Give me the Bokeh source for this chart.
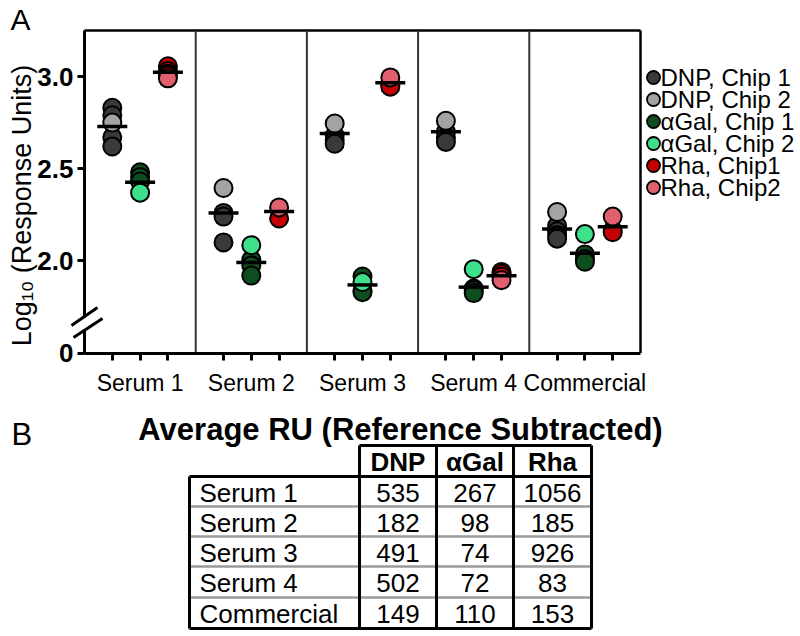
import numpy as np
from bokeh.plotting import figure
from bokeh.models import Range1d, FixedTicker
from bokeh.layouts import column
from bokeh.embed import file_html
from bokeh.resources import INLINE
from bokeh.core.properties import value

# ---------------- data ----------------
groups = ["Serum 1", "Serum 2", "Serum 3", "Serum 4", "Commercial"]
antigens = ["DNP", "αGal", "Rha"]

# log10(response units), one list per group
dnp_chip1 = [[2.83, 2.79, 2.67, 2.62], [2.26, 2.24, 2.10], [2.68, 2.655, 2.635],
             [2.70, 2.67, 2.645], [2.19, 2.16, 2.14, 2.12]]
dnp_chip2 = [[2.75], [2.395], [2.745], [2.76], [2.265]]
agal_chip1 = [[2.48, 2.455, 2.43], [2.005, 1.975, 1.92], [1.915, 1.84, 1.83],
              [1.85, 1.84, 1.825], [2.035, 2.01, 1.995]]
agal_chip2 = [[2.37], [2.085], [1.885], [1.955], [2.145]]
rha_chip1 = [[3.055, 3.03, 3.015, 3.005], [2.23], [2.955, 2.945],
             [1.94, 1.93, 1.915], [2.165, 2.155]]
rha_chip2 = [[2.99], [2.29], [2.995], [1.895], [2.24]]

# average RU (reference subtracted)
avg_dnp = [535, 182, 491, 502, 149]
avg_agal = [267, 98, 74, 72, 110]
avg_rha = [1056, 185, 926, 83, 153]

y_ticks = [1.5, 2.0, 2.5, 3.0]
y_tick_labels = ["0", "2.0", "2.5", "3.0"]

series_labels = ["DNP, Chip 1", "DNP, Chip 2", "αGal, Chip 1", "αGal, Chip 2",
                 "Rha, Chip1", "Rha, Chip2"]
series_colors = ["#3a3a3a", "#a3a3a3", "#0e4d1f", "#3ee08c", "#c40000", "#e0606e"]
series_values = [dnp_chip1, dnp_chip2, agal_chip1, agal_chip2, rha_chip1, rha_chip2]
series_antigen = [0, 0, 1, 1, 2, 2]

FONT = "Liberation Sans"

# ---------------- layout constants (page pixels) ----------------
W, H1, H2 = 800, 396, 238
PX0, PXU = 84.0, 111.2      # page x of x=0, px per group
PY0, PYU = 352.5, 184.33    # page y of y=1.5, px per log unit
Y_BASE = 1.5


def px2x(px):
    return (px - PX0) / PXU


def py2v(py):
    return Y_BASE + (PY0 - py) / PYU


Y_TOP = py2v(30)

# ---------------- panel A ----------------
offsets = [0.25, 0.5, 0.75]

p = figure(width=W, height=H1, x_range=Range1d(px2x(0), px2x(W)),
           y_range=Range1d(py2v(H1), py2v(0)),
           output_backend="svg", toolbar_location=None, min_border=0)
p.grid.visible = False
p.outline_line_color = None

# box: top and right edges, group separators
p.segment(x0=[0], x1=[5], y0=[Y_TOP], y1=[Y_TOP], line_color="black", line_width=2.5)
p.segment(x0=[5], x1=[5], y0=[Y_BASE], y1=[Y_TOP], line_color="black", line_width=2.5)
p.segment(x0=[1, 2, 3, 4], x1=[1, 2, 3, 4], y0=[Y_BASE] * 4, y1=[Y_TOP] * 4,
          line_color="#333333", line_width=2)

for label, vals, a, color in zip(series_labels, series_values, series_antigen,
                                 series_colors):
    xs, ys = [], []
    for g, gv in enumerate(vals):
        for v in gv:
            xs.append(g + offsets[a])
            ys.append(v)
    p.scatter(x=xs, y=ys, size=18, marker="circle", fill_color=color,
              line_color="black", line_width=2)

# mean lines from the averages table
for a, avg in enumerate([avg_dnp, avg_agal, avg_rha]):
    mx = [g + offsets[a] for g in range(len(groups))]
    my = list(np.log10(avg))
    p.scatter(x=mx, y=my, marker="dash", size=30, line_color="black", line_width=3.5)

# axes drawn at fixed locations (frame covers the whole canvas)
p.yaxis.fixed_location = 0
p.yaxis.bounds = (Y_BASE, Y_TOP)
p.yaxis.ticker = FixedTicker(ticks=y_ticks)
p.yaxis.major_label_overrides = {1.5: "0", 2: "2.0", 2.5: "2.5", 3: "3.0"}
p.yaxis.major_label_text_font = FONT
p.yaxis.major_label_text_font_style = "bold"
p.yaxis.major_label_text_font_size = "26px"
p.yaxis.major_label_text_color = "black"
p.yaxis.major_tick_out = 7
p.yaxis.major_tick_in = 0
p.yaxis.major_tick_line_width = 3
p.yaxis.major_tick_line_color = "black"
p.yaxis.minor_tick_line_color = None
p.yaxis.major_label_standoff = 4

centers = [g + 0.5 for g in range(len(groups))]
p.xaxis.fixed_location = Y_BASE
p.xaxis.bounds = (0, 5)
p.xaxis.ticker = FixedTicker(ticks=centers,
                             minor_ticks=[g + o for g in range(len(groups)) for o in offsets])
p.xaxis.major_label_overrides = {c: n for c, n in zip(centers, groups)}
p.xaxis.major_label_text_font = FONT
p.xaxis.major_label_text_font_size = "23px"
p.xaxis.major_label_text_color = "black"
p.xaxis.major_tick_line_color = None
p.xaxis.major_tick_out = 8
p.xaxis.major_tick_in = 0
p.xaxis.major_label_standoff = 9
p.xaxis.minor_tick_out = 7
p.xaxis.minor_tick_in = 0
p.xaxis.minor_tick_line_color = "black"
p.xaxis.minor_tick_line_width = 3

for ax in (p.xaxis, p.yaxis):
    ax.axis_line_width = 3
    ax.axis_line_color = "black"

# y axis title
p.text(x=[px2x(21.5)], y=[py2v(205)], text=["Log₁₀ (Response Units)"], angle=np.pi / 2,
       text_font=value(FONT), text_font_size=value("27px"), text_align="center",
       text_baseline="middle", text_color="black")

# axis break
p.segment(x0=[0], x1=[0], y0=[py2v(330)], y1=[py2v(317)], line_color="white",
          line_width=7, level="overlay")
p.segment(x0=[px2x(71), px2x(73)], x1=[px2x(97), px2x(102)],
          y0=[py2v(325), py2v(337)], y1=[py2v(307), py2v(318)],
          line_color="black", line_width=3, level="overlay")

# panel letter
p.text(x=[px2x(10)], y=[py2v(19)], text=["A"], text_font=value(FONT),
       text_font_size=value("30px"), text_align="left", text_baseline="middle",
       text_color="black")

# legend (drawn beside the box)
leg_y = [py2v(77 + 22 * i) for i in range(len(series_labels))]
p.scatter(x=[px2x(653)] * len(series_labels), y=leg_y, size=13, marker="circle",
          fill_color=series_colors, line_color="black", line_width=1.8)
p.text(x=[px2x(660)] * len(series_labels), y=leg_y, text=series_labels,
       text_font=value(FONT), text_font_size=value("24px"), text_align="left",
       text_baseline="middle", text_color="black")

# ---------------- panel B (table) ----------------
t = figure(width=W, height=H2, x_range=Range1d(0, W), y_range=Range1d(396 + H2, 396),
           output_backend="svg", toolbar_location=None, x_axis_type=None,
           y_axis_type=None, min_border=0)
t.grid.visible = False
t.outline_line_color = None

col_edges = [189, 359, 436, 513, 591]
head_top = 445
row_edges = [476, 506, 536, 566, 597, 628]

# inner grey row lines
t.segment(x0=[col_edges[0]] * 4, x1=[col_edges[-1]] * 4, y0=row_edges[1:-1],
          y1=row_edges[1:-1], line_color="#9a9a9a", line_width=2.5)
# black lines
bx0 = [col_edges[1], col_edges[0], col_edges[0], col_edges[0], col_edges[1], col_edges[2],
       col_edges[3], col_edges[4]]
bx1 = [col_edges[4], col_edges[4], col_edges[4], col_edges[0], col_edges[1], col_edges[2],
       col_edges[3], col_edges[4]]
by0 = [head_top, row_edges[0], row_edges[-1], row_edges[0], head_top, head_top, head_top,
       head_top]
by1 = [head_top, row_edges[0], row_edges[-1], row_edges[-1], row_edges[-1], row_edges[-1],
       row_edges[-1], row_edges[-1]]
t.segment(x0=bx0, x1=bx1, y0=by0, y1=by1, line_color="black", line_width=3)

col_centers = [(col_edges[i] + col_edges[i + 1]) / 2 for i in range(1, 4)]
row_centers = [(row_edges[i] + row_edges[i + 1]) / 2 for i in range(5)]

t.text(x=col_centers, y=[(head_top + row_edges[0]) / 2 + 1] * 3, text=antigens,
       text_font=value(FONT), text_font_style="bold", text_font_size=value("26px"),
       text_align="center", text_baseline="middle", text_color="black")
t.text(x=[col_edges[0] + 10] * 5, y=[rc + 1 for rc in row_centers], text=groups,
       text_font=value(FONT), text_font_size=value("26px"),
       text_align="left", text_baseline="middle", text_color="black")
for i, avg in enumerate([avg_dnp, avg_agal, avg_rha]):
    t.text(x=[col_centers[i]] * 5, y=[rc + 1 for rc in row_centers],
           text=[str(v) for v in avg],
           text_font=value(FONT), text_font_size=value("26px"),
           text_align="center", text_baseline="middle", text_color="black")

t.text(x=[400], y=[428.5], text=["Average RU (Reference Subtracted)"],
       text_font=value(FONT), text_font_style="bold", text_font_size=value("31px"),
       text_align="center", text_baseline="middle", text_color="black")
t.text(x=[11], y=[434], text=["B"], text_font=value(FONT), text_font_size=value("31px"),
       text_align="left", text_baseline="middle", text_color="black")

layout = column(p, t)
open("out.html", "w").write(file_html(layout, INLINE))
